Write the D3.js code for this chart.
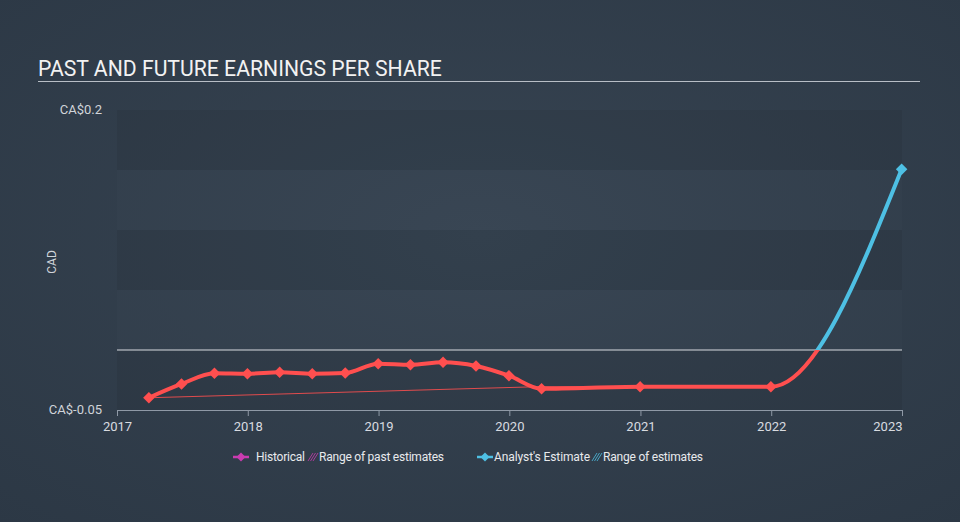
<!DOCTYPE html>
<html><head><meta charset="utf-8">
<script src="https://cdn.jsdelivr.net/npm/d3@7"></script>
<style>html,body{margin:0;padding:0;background:#323e4b;}svg{display:block;font-family:Roboto,"Open Sans",sans-serif;}</style>
</head><body>
<svg id="chart" width="960" height="522"></svg>
<script>
// ---- data ----
const histDates = ["2017-03-31","2017-06-30","2017-09-30","2017-12-31","2018-03-31","2018-06-30","2018-09-30","2018-12-31","2019-03-31","2019-06-30","2019-09-30","2019-12-31","2020-03-31","2020-12-31","2021-12-31"];
const histEPS = [-0.0398,-0.0283,-0.0194,-0.0198,-0.0186,-0.0198,-0.0192,-0.0114,-0.0123,-0.0103,-0.0133,-0.0214,-0.0323,-0.0306,-0.0306];
const estDates = ["2021-12-31","2022-12-31"];
const estEPS = [-0.0306,0.1506];
const pastRangeDates = ["2017-03-31","2020-03-31","2020-12-31"];
const pastRangeEPS = [-0.0398,-0.0305,-0.0306];
const xTickYears = [2017,2018,2019,2020,2021,2022,2023];
const yTickValues = [0.2,-0.05];
const yTickLabels = ["CA$0.2","CA$-0.05"];
const title = "PAST AND FUTURE EARNINGS PER SHARE";
const legendItems = ["Historical","Range of past estimates","Analyst's Estimate","Range of estimates"];

const parse = d3.timeParse("%Y-%m-%d");
const svg = d3.select("#chart");
const W = 960, H = 522;
const m = {left:117, right:58, top:110, bottom:112};
const pw = W - m.left - m.right, ph = H - m.top - m.bottom;

const defs = svg.append("defs");
const rg = defs.append("radialGradient").attr("id","bg").attr("cx","50%").attr("cy","45%").attr("r","75%");
rg.append("stop").attr("offset","0%").attr("stop-color","#374452");
rg.append("stop").attr("offset","100%").attr("stop-color","#2c3845");
svg.append("rect").attr("width",W).attr("height",H).attr("fill","url(#bg)");

const x = d3.scaleTime().domain([new Date(2017,0,1), new Date(2023,0,1)]).range([m.left, m.left+pw]);
const y = d3.scaleLinear().domain([-0.05,0.2]).range([m.top+ph, m.top]);

// bands
const bandEdges = [-0.05,0,0.05,0.1,0.15,0.2];
for (let i=0;i<bandEdges.length-1;i++){
  svg.append("rect").attr("x",m.left).attr("width",pw)
    .attr("y",y(bandEdges[i+1])).attr("height",y(bandEdges[i])-y(bandEdges[i+1]))
    .attr("fill", i%2===0 ? "rgba(0,0,0,0.06)" : "rgba(255,255,255,0.01)");
}

// title
svg.append("text").attr("x",38).attr("y",76).attr("fill","#f2f2f2").attr("font-size",21.2).text(title);
svg.append("line").attr("x1",38).attr("x2",920).attr("y1",81.5).attr("y2",81.5).attr("stroke","#b8bec6").attr("stroke-width",1);

// y labels
svg.selectAll(".ylab").data(yTickValues).enter().append("text")
  .attr("x",102).attr("y",d=>y(d)+4).attr("text-anchor","end")
  .attr("fill","#d0d4d9").attr("font-size",13).text((d,i)=>yTickLabels[i]);
svg.append("text").attr("transform","translate(56,262) rotate(-90)").attr("text-anchor","middle")
  .attr("fill","#d0d4d9").attr("font-size",12).text("CAD");

// zero line
svg.append("line").attr("x1",m.left).attr("x2",m.left+pw).attr("y1",y(0)).attr("y2",y(0)).attr("stroke","#d8dbe0").attr("stroke-width",1);

// x axis
const xAxis = d3.axisBottom(x).tickValues(xTickYears.map(yy=>new Date(yy,0,1))).tickFormat(d3.timeFormat("%Y")).tickSizeOuter(0).tickSize(6);
const gx = svg.append("g").attr("transform",`translate(0,${m.top+ph})`).call(xAxis);
gx.select(".domain").attr("stroke","#8f99a6");
gx.selectAll(".tick line").attr("stroke","#8f99a6");
gx.selectAll(".tick text").attr("fill","#d8dbe0").attr("font-size",13).attr("font-family","Roboto,sans-serif").attr("dy","0.9em");
gx.selectAll(".tick text").filter((d,i)=>i===xTickYears.length-1).attr("text-anchor","end");

// clip paths for sign coloring
defs.append("clipPath").attr("id","neg").append("rect").attr("x",0).attr("width",W).attr("y",y(0)).attr("height",H);
defs.append("clipPath").attr("id","pos").append("rect").attr("x",0).attr("width",W).attr("y",0).attr("height",y(0));

const red = "#ff4f4f", blue = "#4ec0e4";
const hist = histDates.map((d,i)=>({d:parse(d),v:histEPS[i]}));
const est = estDates.map((d,i)=>({d:parse(d),v:estEPS[i]}));
const all = hist.concat(est.slice(1));
const pastRange = pastRangeDates.map((d,i)=>({d:parse(d),v:pastRangeEPS[i]}));

const line = d3.line().x(p=>x(p.d)).y(p=>y(p.v)).curve(d3.curveMonotoneX);
const lineLin = d3.line().x(p=>x(p.d)).y(p=>y(p.v));

svg.append("path").attr("d",lineLin(pastRange)).attr("fill","none").attr("stroke",red).attr("stroke-width",1).attr("opacity",0.85);

svg.append("path").attr("d",line(all)).attr("fill","none").attr("stroke",red).attr("stroke-width",4).attr("clip-path","url(#neg)").attr("stroke-linejoin","round");
svg.append("path").attr("d",line(all)).attr("fill","none").attr("stroke",blue).attr("stroke-width",4).attr("clip-path","url(#pos)").attr("stroke-linejoin","round");

svg.selectAll(".hm").data(hist).enter().append("path")
  .attr("d",d3.symbol().type(d3.symbolSquare).size(66))
  .attr("transform",p=>`translate(${x(p.d)},${y(p.v)}) rotate(45)`).attr("fill",red);
svg.selectAll(".em").data(est.slice(1)).enter().append("path")
  .attr("d",d3.symbol().type(d3.symbolSquare).size(66))
  .attr("transform",p=>`translate(${x(p.d)},${y(p.v)}) rotate(45)`).attr("fill",blue);

// legend
function legendMarker(g, cx, cy, color){
  g.append("line").attr("x1",cx-8).attr("x2",cx+8).attr("y1",cy).attr("y2",cy).attr("stroke",color).attr("stroke-width",2.5);
  g.append("path").attr("d",d3.symbol().type(d3.symbolSquare).size(40)).attr("transform",`translate(${cx},${cy}) rotate(45)`).attr("fill",color);
}
function hatch(g, x0, cy, color){
  for (let k=0;k<3;k++){
    g.append("line").attr("x1",x0+k*2.5).attr("y1",cy+4).attr("x2",x0+k*2.5+5).attr("y2",cy-4).attr("stroke",color).attr("stroke-width",1).attr("opacity",0.8);
  }
}
const lg = svg.append("g").attr("font-size",12).attr("fill","#e8eaed");
const ly = 457;
legendMarker(lg, 241, ly, "#c93cb0");
lg.append("text").attr("x",256).attr("y",ly+4).attr("textLength",49).text(legendItems[0]);
hatch(lg, 308, ly, "#c93cb0");
lg.append("text").attr("x",319).attr("y",ly+4).attr("textLength",125).text(legendItems[1]);
legendMarker(lg, 485, ly, blue);
lg.append("text").attr("x",494).attr("y",ly+4).attr("textLength",96).text(legendItems[2]);
hatch(lg, 592, ly, blue);
lg.append("text").attr("x",603).attr("y",ly+4).attr("textLength",100).text(legendItems[3]);
</script>
</body></html>
